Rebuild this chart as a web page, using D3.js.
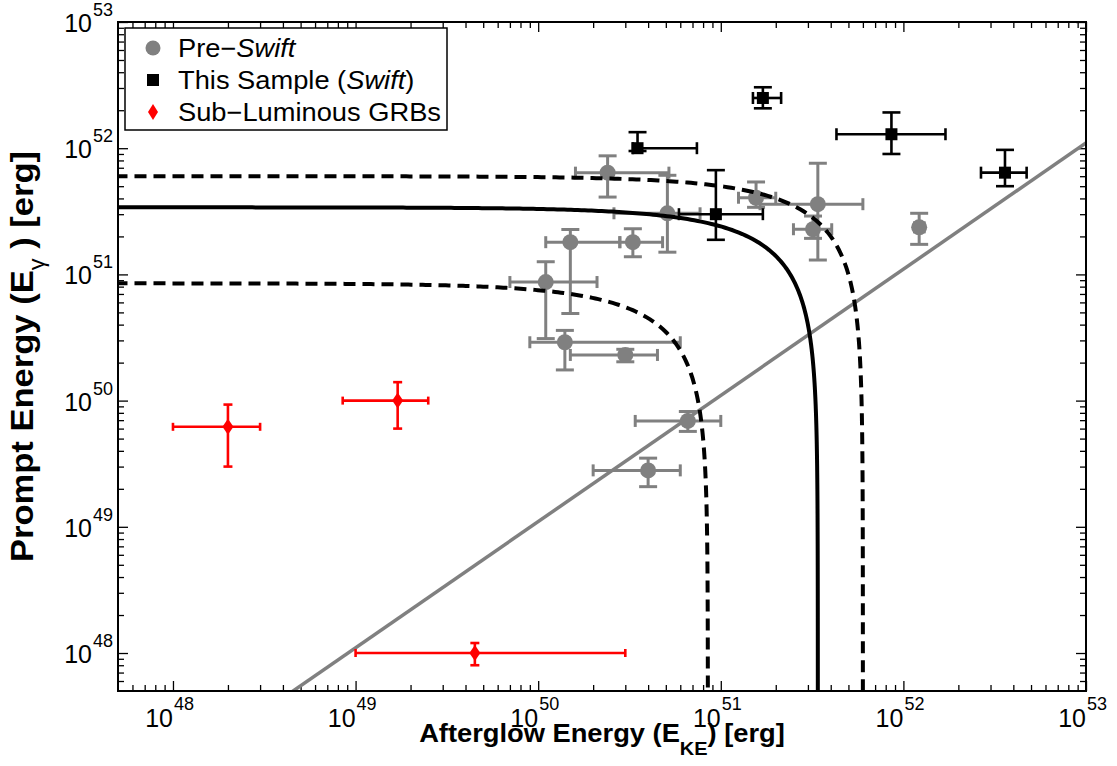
<!DOCTYPE html>
<html>
<head>
<meta charset="utf-8">
<script src="https://cdn.jsdelivr.net/npm/d3@7"></script>
<style>
  body { margin: 0; background: #fff; }
  svg { display: block; }
  text { font-family: "Liberation Sans", Arial, Helvetica, sans-serif; fill: #000; }
</style>
</head>
<body>
<svg id="chart" width="1117" height="766"></svg>
<script>
// Each row: [E_KE, E_KE low, E_KE high, E_gamma, E_gamma low, E_gamma high] in erg
const preSwift = [
  [2.4e50, 1.6e50, 5.2e50, 6.4e51, 4.1e51, 8.7e51],
  [5.1e50, 2.6e50, 7.7e50, 3.05e51, 1.5e51, 6.1e51],
  [1.5e50, 1.1e50, 2.8e50, 1.8e51, 4.9e50, 2.27e51],
  [3.3e50, 2.8e50, 4.8e50, 1.8e51, 1.38e51, 2.3e51],
  [1.1e50, 7.0e49, 2.1e50, 8.7e50, 3.1e50, 1.26e51],
  [1.4e50, 9.0e49, 6.0e50, 2.9e50, 1.75e50, 3.6e50],
  [3.0e50, 1.5e50, 4.5e50, 2.3e50, 2.03e50, 2.55e50],
  [6.6e50, 3.4e50, 1.0e51, 6.9e49, 5.7e49, 8.2e49],
  [4.0e50, 2.0e50, 6.0e50, 2.8e49, 2.08e49, 3.5e49],
  [1.56e51, 1.25e51, 2.0e51, 4.05e51, 3.4e51, 5.4e51],
  [3.4e51, 1.64e51, 6.0e51, 3.6e51, 1.3e51, 7.6e51],
  [3.2e51, 2.5e51, 4.05e51, 2.28e51, 1.93e51, 2.9e51],
  [1.22e52, 1.15e52, 1.3e52, 2.36e51, 1.73e51, 3.05e51]
];

const swiftSample = [
  [3.5e50, 3.3e50, 7.4e50, 1.0e52, 9.5e51, 1.34e52],
  [1.7e51, 1.5e51, 2.14e51, 2.5e52, 2.07e52, 3.04e52],
  [8.6e51, 4.3e51, 1.7e52, 1.29e52, 9.0e51, 1.92e52],
  [3.6e52, 2.66e52, 4.73e52, 6.4e51, 5.0e51, 9.7e51],
  [9.4e50, 5.9e50, 1.7e51, 3.0e51, 1.88e51, 6.7e51]
];

const subLuminous = [
  [2.0e48, 1.0e48, 3.0e48, 6.2e49, 3.0e49, 9.3e49],
  [1.7e49, 8.5e48, 2.5e49, 1.0e50, 6.0e49, 1.4e50],
  [4.5e49, 1.0e49, 3.0e50, 1.0e48, 8.0e47, 1.2e48]
];

// Lines of constant total energy E_gamma + E_KE = E_tot (erg)
const totalEnergy = [8.5e50, 3.4e51, 6.0e51];
// Constant ratio E_gamma / E_KE
const energyRatio = [0.11];

const tickExponents = [48, 49, 50, 51, 52, 53];
const legendLabels = [
  ["Pre\u2212", "Swift", ""],
  ["This Sample (", "Swift", ")"],
  ["Sub\u2212Luminous GRBs", "", ""]
];

const L = 118, R = 1086, T = 22, B = 691;
const dom = [5e47, 1e53];

const svg = d3.select("#chart");
const x = d3.scaleLog().domain(dom).range([L, R]);
const y = d3.scaleLog().domain(dom).range([B, T]);

svg.append("defs").append("clipPath").attr("id", "plotClip")
  .append("rect").attr("x", L).attr("y", T).attr("width", R - L).attr("height", B - T);

// minor ticks 2..9 x 10^n inside the domain
const minor = [];
for (let e = 47; e <= 52; e++) for (let k = 2; k <= 9; k++) {
  const v = k * Math.pow(10, e);
  if (v > dom[0] && v < dom[1]) minor.push(v);
}
const major = tickExponents.map(e => Math.pow(10, e));

function addAxis(gen, tf, values, size) {
  const g = svg.append("g").attr("transform", tf)
    .call(gen.tickValues(values).tickFormat("").tickSizeInner(-size).tickSizeOuter(0));
  g.select(".domain").remove();
  g.selectAll(".tick line").attr("stroke", "#000").attr("stroke-width", 1.3);
  g.selectAll(".tick text").remove();
}
[[minor, 6], [major, 10]].forEach(([vals, s]) => {
  addAxis(d3.axisBottom(x), `translate(0,${B})`, vals, s);
  addAxis(d3.axisTop(x), `translate(0,${T})`, vals, s);
  addAxis(d3.axisLeft(y), `translate(${L},0)`, vals, s);
  addAxis(d3.axisRight(y), `translate(${R},0)`, vals, s);
});

const plot = svg.append("g").attr("clip-path", "url(#plotClip)");

function drawErrors(rows, color, lw, capY, capX) {
  const g = plot.append("g").attr("stroke", color).attr("stroke-width", lw).attr("fill", "none");
  rows.forEach(d => {
    const cx = x(d[0]), x0 = x(d[1]), x1 = x(d[2]);
    const cy = y(d[3]), y0 = y(d[4]), y1 = y(d[5]);
    g.append("line").attr("x1", x0).attr("x2", x1).attr("y1", cy).attr("y2", cy);
    g.append("line").attr("x1", x0).attr("x2", x0).attr("y1", cy - capX / 2).attr("y2", cy + capX / 2);
    g.append("line").attr("x1", x1).attr("x2", x1).attr("y1", cy - capX / 2).attr("y2", cy + capX / 2);
    g.append("line").attr("x1", cx).attr("x2", cx).attr("y1", y0).attr("y2", y1);
    g.append("line").attr("x1", cx - capY / 2).attr("x2", cx + capY / 2).attr("y1", y0).attr("y2", y0);
    g.append("line").attr("x1", cx - capY / 2).attr("x2", cx + capY / 2).attr("y1", y1).attr("y2", y1);
  });
}

const GRAY = "#808080", RED = "#ff0000";

// Pre-Swift bursts
drawErrors(preSwift, GRAY, 3, 18, 12);
plot.append("g").selectAll("circle").data(preSwift).join("circle")
  .attr("cx", d => x(d[0])).attr("cy", d => y(d[3])).attr("r", 8).attr("fill", GRAY);

// constant-ratio line
const ratioLine = d3.line().x(d => x(d[0])).y(d => y(d[1]));
energyRatio.forEach(k => {
  plot.append("path")
    .attr("d", ratioLine([[3e47, 3e47 * k], [2e53, 2e53 * k]]))
    .attr("stroke", GRAY).attr("stroke-width", 3.5).attr("fill", "none");
});

// constant total energy curves
const curve = d3.line().x(d => x(d[0])).y(d => y(d[1]));
totalEnergy.forEach((E, i) => {
  const pts = [];
  const lo = Math.log10(3e47), mid = Math.log10(E / 2), n = 200;
  for (let j = 0; j <= n; j++) {
    const xv = Math.pow(10, lo + (mid - lo) * j / n);
    pts.push([xv, E - xv]);
  }
  for (let j = n - 1; j >= 0; j--) {
    const yv = Math.pow(10, lo + (mid - lo) * j / n);
    pts.push([E - yv, yv]);
  }
  plot.append("path").attr("d", curve(pts))
    .attr("stroke", "#000").attr("stroke-width", 4).attr("fill", "none")
    .attr("stroke-dasharray", i === 1 ? null : "12,7");
});

// Swift sample
drawErrors(swiftSample, "#000", 2.6, 18, 12);
plot.append("g").selectAll("rect").data(swiftSample).join("rect")
  .attr("x", d => x(d[0]) - 6).attr("y", d => y(d[3]) - 6)
  .attr("width", 12).attr("height", 12).attr("fill", "#000");

// sub-luminous bursts
drawErrors(subLuminous, RED, 2.6, 9, 8);
const diamond = (cx, cy, w, h) => `M${cx},${cy - h / 2}L${cx + w / 2},${cy}L${cx},${cy + h / 2}L${cx - w / 2},${cy}Z`;
plot.append("g").selectAll("path").data(subLuminous).join("path")
  .attr("d", d => diamond(x(d[0]), y(d[3]), 11, 16)).attr("fill", RED);

// frame
svg.append("rect").attr("x", L).attr("y", T).attr("width", R - L).attr("height", B - T)
  .attr("fill", "none").attr("stroke", "#000").attr("stroke-width", 2);

// tick labels
tickExponents.forEach(e => {
  const v = Math.pow(10, e);
  const px = x(v);
  svg.append("text").attr("x", px).attr("y", B + 36).attr("text-anchor", "end")
    .attr("font-size", 25).text("10");
  svg.append("text").attr("x", px + 1).attr("y", B + 19).attr("text-anchor", "start")
    .attr("font-size", 18).text(e);
  const py = y(v);
  svg.append("text").attr("x", 92).attr("y", py + 10).attr("text-anchor", "end")
    .attr("font-size", 25).text("10");
  svg.append("text").attr("x", 93).attr("y", py - 6).attr("text-anchor", "start")
    .attr("font-size", 18).text(e);
});

// axis titles
const xt = svg.append("text").attr("transform", `translate(${(L + R) / 2},742) scale(1.05,1)`)
  .attr("text-anchor", "middle").attr("font-size", 26).attr("font-weight", "bold");
xt.append("tspan").text("Afterglow Energy (E");
xt.append("tspan").attr("dy", 13).attr("font-size", 19).text("KE");
xt.append("tspan").attr("dy", -13).text(") [erg]");

const yt = svg.append("text")
  .attr("transform", `translate(33,${(T + B) / 2}) rotate(-90) scale(1.08,1)`)
  .attr("text-anchor", "middle").attr("font-size", 32).attr("font-weight", "bold");
yt.append("tspan").text("Prompt Energy (E");
yt.append("tspan").attr("dy", 11).attr("font-size", 22).attr("font-weight", "normal").text("\u03b3");
yt.append("tspan").attr("dy", -11).text(" ) [erg]");

// legend
const lg = svg.append("g");
lg.append("rect").attr("x", 125).attr("y", 28).attr("width", 322).attr("height", 102)
  .attr("fill", "#fff").attr("stroke", "#000").attr("stroke-width", 1.5);
const rowsY = [48, 80, 112];
lg.append("circle").attr("cx", 153).attr("cy", rowsY[0]).attr("r", 7.5).attr("fill", GRAY);
lg.append("rect").attr("x", 147).attr("y", rowsY[1] - 6).attr("width", 12).attr("height", 12).attr("fill", "#000");
lg.append("path").attr("d", diamond(153, rowsY[2], 10, 16)).attr("fill", RED);
legendLabels.forEach((parts, i) => {
  const t = lg.append("text").attr("transform", `translate(178,${rowsY[i] + 9}) scale(1.07,1)`)
    .attr("font-size", 25.5);
  t.append("tspan").text(parts[0]);
  if (parts[1]) t.append("tspan").attr("font-style", "italic").text(parts[1]);
  if (parts[2]) t.append("tspan").text(parts[2]);
});
</script>
</body>
</html>
